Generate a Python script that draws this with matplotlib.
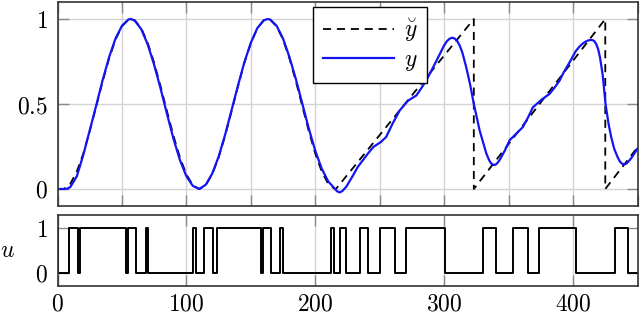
import matplotlib
matplotlib.use("Agg")
import matplotlib.pyplot as plt
from matplotlib.lines import Line2D

plt.rcParams['mathtext.fontset'] = 'cm'
plt.rcParams['font.family'] = ['DejaVu Serif']

# reference signal (dashed)
ref_x = [0, 4, 5, 10, 15, 20, 25, 30, 35, 40, 45, 50, 55, 57, 60, 65, 70, 75, 80, 85, 90, 95,
         100, 105, 110, 115, 120, 125, 130, 135, 140, 145, 150, 155, 160, 163, 165, 170, 175,
         180, 185, 190, 195, 200, 205, 210, 215, 216, 323, 323, 425, 425, 450]
ref_y = [0, 0, 0.001, 0.031, 0.103, 0.208, 0.340, 0.485, 0.632, 0.767, 0.879, 0.957, 0.996, 1.0,
         0.992, 0.945, 0.858, 0.742, 0.603, 0.456, 0.312, 0.185, 0.086, 0.022, 0.0, 0.022, 0.086,
         0.185, 0.312, 0.456, 0.603, 0.742, 0.858, 0.945, 0.992, 1.0, 0.996, 0.957, 0.879, 0.767,
         0.632, 0.485, 0.340, 0.208, 0.103, 0.031, 0.001, 0.0, 1.0, 0.0, 1.0, 0.0, 0.245]

# output (blue)
out_x = [0, 5, 8, 10, 15, 20, 25, 30, 35, 40, 45, 50, 55, 57, 60, 65, 70, 75, 80, 85, 90, 95, 100,
         105, 110, 115, 120, 125, 130, 135, 140, 145, 150, 155, 160, 163, 165, 170, 175, 180, 185,
         190, 195, 200, 205, 210, 215, 217, 219, 221, 224, 229, 233, 237, 241, 245, 251, 255, 260,
         265.5, 272, 278.4, 282, 286, 290, 294, 298, 300, 302, 304, 306, 308, 310, 312, 314, 317,
         320, 323, 327.5, 332.7, 335, 336.5, 338, 339.5, 341, 343, 347, 350.8, 356, 361, 365,
         368.8, 375.3, 381.8, 386, 389.5, 393, 397.3, 402, 405, 407.6, 409.5, 411.5, 413.5, 415,
         416.5, 418, 419.5, 421, 423, 425.2, 427.5, 429.6, 432, 434.7, 436.5, 438, 440, 441.5,
         443, 445, 447.5, 450]
out_y = [0, 0.0, 0.003, 0.012, 0.075, 0.2, 0.345, 0.49, 0.64, 0.775, 0.885, 0.96, 0.997, 1.0, 0.99,
         0.94, 0.85, 0.73, 0.59, 0.44, 0.295, 0.17, 0.075, 0.018, 0.0, 0.025, 0.09, 0.19, 0.318,
         0.462, 0.608, 0.746, 0.86, 0.946, 0.992, 1.0, 0.997, 0.96, 0.885, 0.775, 0.645, 0.5,
         0.355, 0.225, 0.12, 0.045, 0.003, -0.014, -0.02, -0.012, 0.013, 0.076, 0.13, 0.17, 0.21,
         0.247, 0.277, 0.306, 0.385, 0.462, 0.52, 0.55, 0.59, 0.637, 0.695, 0.754, 0.815, 0.845,
         0.868, 0.883, 0.89, 0.886, 0.872, 0.845, 0.805, 0.72, 0.62, 0.50, 0.345, 0.209, 0.168,
         0.15, 0.142, 0.142, 0.15, 0.17, 0.225, 0.287, 0.326, 0.364, 0.42, 0.48, 0.524, 0.56,
         0.60, 0.637, 0.69, 0.745, 0.81, 0.838, 0.856, 0.866, 0.873, 0.877, 0.876, 0.87, 0.852,
         0.822, 0.77, 0.67, 0.50, 0.385, 0.305, 0.235, 0.185, 0.16, 0.149, 0.145, 0.15, 0.162,
         0.18, 0.208, 0.238]

# switching input u (step, value holds until next time)
u_t = [0, 0.6, 8.9, 16.2, 17.6, 52.8, 54.4, 60.6, 68.3, 70.2, 105.3, 107.4, 113.6, 120.8, 123.4,
       157.5, 159.5, 166.0, 173.0, 175.1, 212.5, 214.8, 219.0, 223.6, 235.0, 241.0, 250.0,
       261.6, 270.7, 300.4, 330.1, 340.5, 353.3, 365.0, 373.5, 402.5, 432.2, 442.5, 450]
u_v = [1, 0, 1, 0, 1, 0, 1, 0, 1, 0, 1, 0, 1, 0, 1, 0, 1, 0, 1, 0, 1, 0, 1, 0, 1, 0, 1, 0, 1, 0,
       1, 0, 1, 0, 1, 0, 1, 0, 0]

x_ticks = [0, 100, 200, 300, 400]
x_tick_labels = ['$0$', '$100$', '$200$', '$300$', '$400$']
top_grid_x = [0, 50, 100, 150, 200, 250, 300, 350, 400, 450]
top_yticks = [0, 0.5, 1]
top_ytick_labels = ['$0$', '$0.5$', '$1$']
bot_yticks = [0, 1]
bot_ytick_labels = ['$0$', '$1$']

W, H = 640, 316
fig = plt.figure(figsize=(W / 100, H / 100), dpi=100)
ax1 = fig.add_axes([57.5 / W, (H - 206) / H, 580 / W, 204 / H])
ax2 = fig.add_axes([57.5 / W, (H - 286) / H, 580 / W, 71 / H])

FS = 17
BLUE = '#1414f5'
DASH = (4.5, 3.2)
grid_kw = dict(color='#d4d4d4', linewidth=1.0)
for ax in (ax1, ax2):
    for s in ax.spines.values():
        s.set_color('#333333')
        s.set_linewidth(1.2)
        s.set_zorder(5)
    ax.tick_params(direction='in', length=8, width=1.0, color='#8a8a8a',
                   top=True, right=True, labelsize=FS, pad=7)
    ax.set_xlim(0, 450)
    ax.set_axisbelow(True)

ax1.plot(ref_x, ref_y, color='black', linewidth=1.3, dashes=DASH, zorder=3)
ax1.plot(out_x, out_y, color=BLUE, linewidth=1.6, zorder=4)
ax1.set_ylim(-0.1, 1.1)
ax1.set_xticks(top_grid_x)
ax1.set_xticklabels([])
ax1.set_yticks(top_yticks)
ax1.set_yticklabels(top_ytick_labels)
ax1.grid(True, **grid_kw)

handles = [Line2D([], [], color='black', linewidth=1.3, dashes=DASH),
           Line2D([], [], color=BLUE, linewidth=1.6)]
leg = ax1.legend(handles, [r'$\breve{y}$', r'$y$'], loc='upper left',
                 bbox_to_anchor=(0.441, 0.975), fontsize=FS, frameon=True, fancybox=False,
                 framealpha=1, edgecolor='black', handlelength=3.0, handletextpad=0.45,
                 borderpad=0.4, borderaxespad=0, labelspacing=0.18)
leg.get_frame().set_linewidth(1.0)
leg.set_zorder(6)

ax2.step(u_t, u_v, where='post', color='black', linewidth=1.4, zorder=3)
ax2.set_ylim(-0.3, 1.3)
ax2.set_xticks(x_ticks)
ax2.set_xticklabels(x_tick_labels)
ax2.tick_params(axis='x', pad=5)
ax2.set_yticks(bot_yticks)
ax2.set_yticklabels(bot_ytick_labels)
ax2.xaxis.grid(True, **grid_kw)
ax2.set_ylabel('$u$', fontsize=FS, rotation=0, labelpad=20, va='center')

fig.savefig('out.png', dpi=100)
